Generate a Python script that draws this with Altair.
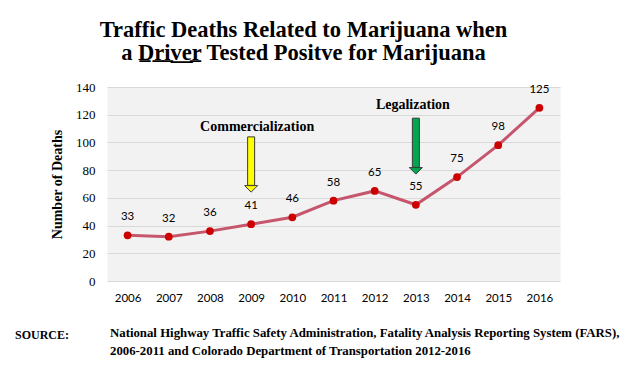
import altair as alt
import pandas as pd

years = ["2006", "2007", "2008", "2009", "2010", "2011", "2012", "2013", "2014", "2015", "2016"]
deaths = [33, 32, 36, 41, 46, 58, 65, 55, 75, 98, 125]

events = ["Commercialization", "Legalization"]
event_years = ["2009", "2013"]
arrow_top = [104, 117.5]
arrow_head_start = [69, 82]
arrow_tip = [64, 77]
event_label_y = [111, 127]
arrow_colors = ["#FFFF00", "#00A650"]

title_lines = ["Traffic Deaths Related to Marijuana when",
               "a D\u0332r\u0332i\u0332v\u0332e\u0332r\u0332 Tested Positve for Marijuana"]
source_label = "SOURCE:"
source_text = ("National Highway Traffic Safety Administration, Fatality Analysis Reporting System (FARS),\n"
               "2006-2011 and Colorado Department of Transportation 2012-2016")

df = pd.DataFrame({"year": years, "deaths": deaths})
ev = pd.DataFrame({
    "event": events, "year": event_years, "top": arrow_top, "head": arrow_head_start,
    "tip": arrow_tip, "mid": [(a + b) / 2 for a, b in zip(arrow_head_start, arrow_tip)],
    "ly": event_label_y, "color": arrow_colors,
})

x_axis = alt.Axis(labelAngle=0, ticks=False, domain=False, labelPadding=11,
                  labelFont="Lato", labelFontSize=11.5, labelColor="#000000")
x_scale = alt.Scale(type="point", padding=0.5)
y_axis = alt.Axis(values=[0, 20, 40, 60, 80, 100, 120, 140], ticks=False, domain=False,
                  gridColor="#D9D9D9", gridWidth=1, labelPadding=12, labelOverlap=False,
                  labelFont="Liberation Serif", labelFontSize=13, labelColor="#000000",
                  titleFont="Liberation Serif", titleFontSize=14, titleFontWeight="bold",
                  titleColor="#000000", titleX=-50, titleY=97, titleAngle=270,
                  titleAlign="center", titleBaseline="middle")
y_scale = alt.Scale(domain=[0, 140], nice=False)


def X():
    return alt.X("year:O", title=None, scale=x_scale, axis=x_axis)


def Y(field):
    return alt.Y(field, title="Number of Deaths", scale=y_scale, axis=y_axis)


line = alt.Chart(df).mark_line(color="#C6566D", strokeWidth=3).encode(x=X(), y=Y("deaths:Q"))
pts = alt.Chart(df).mark_circle(color="#CC0000", size=60, opacity=1).encode(x=X(), y=Y("deaths:Q"))
labels = alt.Chart(df).mark_text(font="Lato", fontSize=11.5, dy=-18, baseline="middle",
                                 color="#000000").encode(x=X(), y=Y("deaths:Q"), text="deaths:Q")

shaft = alt.Chart(ev).mark_bar(size=7, stroke="#3A3A3A", strokeWidth=1).encode(
    x=X(), y=Y("top:Q"), y2="head:Q",
    color=alt.Color("color:N", scale=None))
head = alt.Chart(ev).mark_point(shape="M-1,-0.5L1,-0.5L0,0.5Z", size=169, filled=True,
                                stroke="#3A3A3A", strokeWidth=1, opacity=1).encode(
    x=X(), y=Y("mid:Q"), fill=alt.Fill("color:N", scale=None))
ev_text1 = alt.Chart(ev).transform_filter(alt.datum.event == events[0]).mark_text(
    font="Liberation Serif", fontSize=14, fontWeight="bold",
    color="#000000", baseline="middle", dx=6).encode(x=X(), y=Y("ly:Q"), text="event:N")
ev_text2 = alt.Chart(ev).transform_filter(alt.datum.event == events[1]).mark_text(
    font="Liberation Serif", fontSize=14, fontWeight="bold",
    color="#000000", baseline="middle", dx=-3).encode(x=X(), y=Y("ly:Q"), text="event:N")

src1 = alt.Chart(pd.DataFrame({"t": [source_label]})).mark_text(
    font="Liberation Serif", fontSize=12, fontWeight="bold", align="left", baseline="middle",
    color="#000000").encode(x=alt.value(-92), y=alt.value(248), text="t:N")
src2 = alt.Chart(pd.DataFrame({"t": [source_text]})).mark_text(
    font="Liberation Serif", fontSize=12.8, fontWeight="bold", align="left", baseline="top",
    lineBreak="\n", lineHeight=18, color="#000000").encode(
    x=alt.value(3), y=alt.value(240), text="t:N")

chart = alt.layer(line, pts, labels, shaft, head, ev_text1, ev_text2, src1, src2).properties(
    width=453, height=194,
    autosize=alt.AutoSizeParams(type="none"),
    padding={"left": 99, "top": 79, "right": 71, "bottom": 83},
    title=alt.TitleParams(text=title_lines, font="Liberation Serif", fontSize=22.5,
                          fontWeight="bold", color="#000000", anchor="middle", frame="group",
                          dx=-30, offset=-6, lineHeight=23, baseline="bottom"),
).configure_view(fill="#F2F2F2", stroke="transparent")

chart.save("out.html", embed_options={"renderer": "svg", "actions": False})
